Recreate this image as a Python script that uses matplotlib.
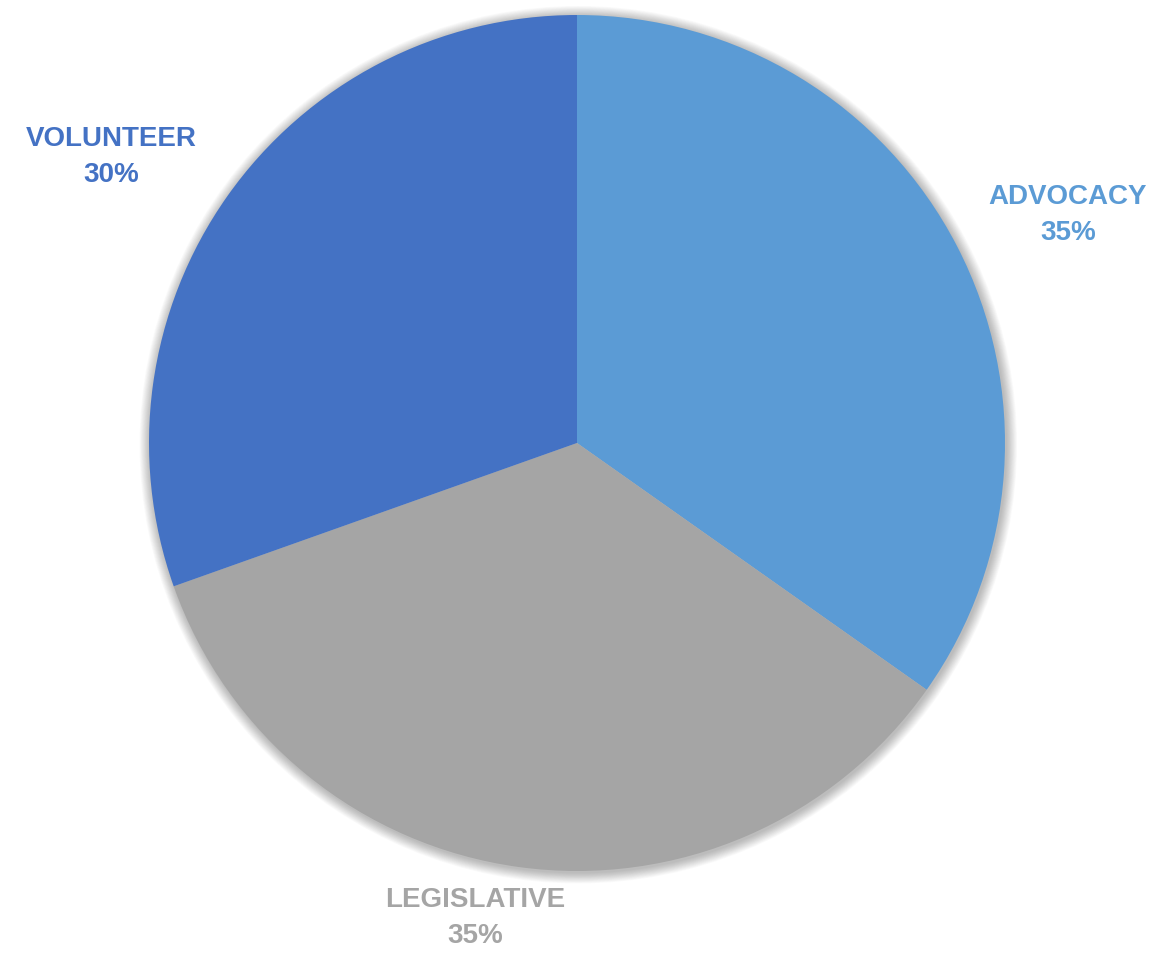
import matplotlib.pyplot as plt
from matplotlib.patches import Circle

# slice data, clockwise from the top (counts of items)
labels = ["ADVOCACY", "LEGISLATIVE", "VOLUNTEER"]
counts = [8, 8, 7]
colors = ["#5B9BD5", "#A5A5A5", "#4472C4"]

# where the data labels sit (pie radius = 1)
label_pos = [(1.147, 0.533), (-0.238, -1.110), (-1.089, 0.668)]

W, H = 1166, 966
cx, cy, r = 577, 443, 428   # pie centre and radius in pixels

fig = plt.figure(figsize=(W / 100, H / 100), dpi=100)
ax = fig.add_axes([0, 0, 1, 1])

# soft shadow around the pie
for i in range(14):
    ax.add_patch(Circle((0.003, -0.004), 1.0 + 0.0018 * (i + 1),
                        color="black", alpha=0.02, lw=0, zorder=0))

ax.pie(counts, colors=colors, startangle=90, counterclock=False,
       radius=1.0, wedgeprops=dict(linewidth=0), frame=False)

total = sum(counts)
for name, val, col, (x, y) in zip(labels, counts, colors, label_pos):
    pct = round(100 * val / total)
    ax.text(x, y, f"{name}\n{pct}%", color=col, ha="center", va="center",
            fontsize=20, fontweight="bold", family="Liberation Sans",
            linespacing=1.5)

ax.set_xlim(-cx / r, (W - cx) / r)
ax.set_ylim(-(H - cy) / r, cy / r)
ax.set_aspect("auto")
ax.axis("off")

fig.savefig("out.png", dpi=100)
